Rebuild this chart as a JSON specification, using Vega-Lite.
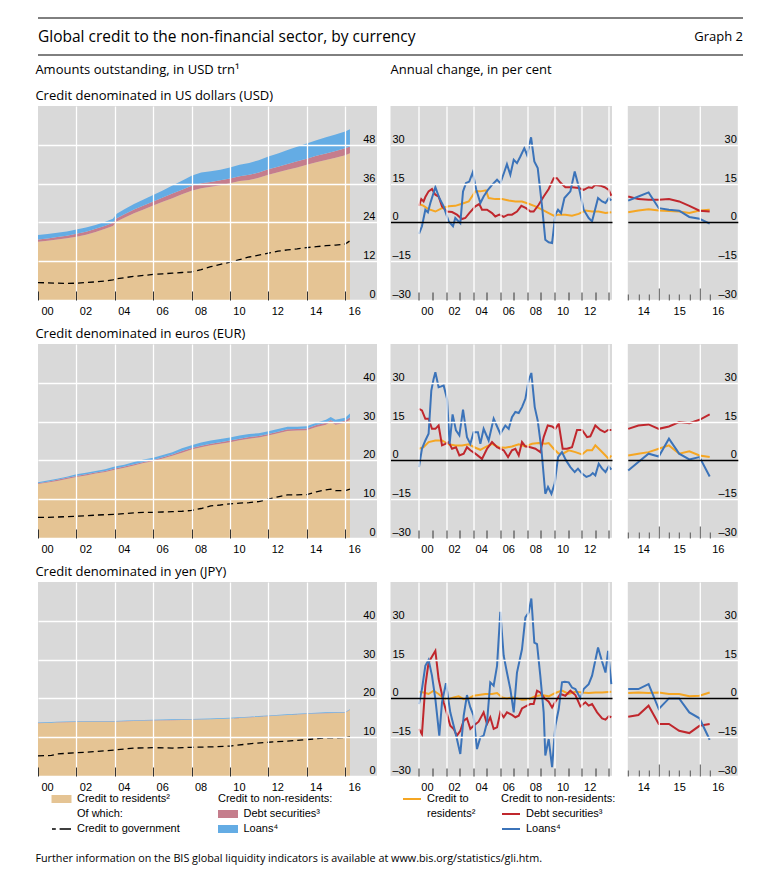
{
"padding": {"left": 35, "top": 17, "right": 5, "bottom": 5},
"background": "#ffffff",
"config": {
 "view": {"stroke": null},
 "font": "Liberation Sans",
 "axis": {"labelFont": "Liberation Sans", "labelFontSize": 11, "labelColor": "#000000"},
 "title": {"font": "Open Sans", "fontSize": 13, "fontWeight": "normal", "anchor": "start", "color": "#000000", "offset": 3},
 "text": {"font": "Liberation Sans", "fontSize": 11, "color": "#000000"}
},
"title": {"text": "Further information on the BIS global liquidity indicators is available at www.bis.org/statistics/gli.htm.", "orient": "bottom", "anchor": "start", "offset": 19, "fontSize": 10.8},
"datasets": {
 "head": [{"side": "left", "label": "Global credit to the non-financial sector, by currency"}, {"side": "right", "label": "Graph 2"}],
 "legL": [
  {"col": "c1", "row": "r1", "sym": "res", "label": "Credit to residents²"},
  {"col": "c1", "row": "r2", "sym": "none", "label": "Of which:"},
  {"col": "c1", "row": "r3", "sym": "gov", "label": "Credit to government"},
  {"col": "c2", "row": "r1", "sym": "head", "label": "Credit to non-residents:"},
  {"col": "c2", "row": "r2", "sym": "sec", "label": "Debt securities³"},
  {"col": "c2", "row": "r3", "sym": "loans", "label": "Loans⁴"}
 ],
 "legR": [
  {"col": "c3", "row": "r1", "sym": "res", "label": "Credit to"},
  {"col": "c3", "row": "r2", "sym": "none", "label": "residents²"},
  {"col": "c4", "row": "r1", "sym": "head", "label": "Credit to non-residents:"},
  {"col": "c4", "row": "r2", "sym": "sec", "label": "Debt securities³"},
  {"col": "c4", "row": "r3", "sym": "loans", "label": "Loans⁴"}
 ],
 "lUSD": [
  {"t":2000,"a_res":18.0,"b_sec":0.7,"c_loans":1.4,"gov":5.4},
  {"t":2000.5,"a_res":18.3,"b_sec":0.7,"c_loans":1.4,"gov":5.3},
  {"t":2001,"a_res":18.7,"b_sec":0.8,"c_loans":1.3,"gov":5.2},
  {"t":2001.5,"a_res":19.1,"b_sec":0.8,"c_loans":1.3,"gov":5.1},
  {"t":2002,"a_res":19.6,"b_sec":0.9,"c_loans":1.3,"gov":5.2},
  {"t":2002.5,"a_res":20.2,"b_sec":0.9,"c_loans":1.3,"gov":5.4},
  {"t":2003,"a_res":21.0,"b_sec":1.0,"c_loans":1.2,"gov":5.6},
  {"t":2003.5,"a_res":22.0,"b_sec":1.0,"c_loans":1.2,"gov":5.9},
  {"t":2003.9,"a_res":22.9,"b_sec":1.0,"c_loans":1.2,"gov":6.2},
  {"t":2004.1,"a_res":24.3,"b_sec":1.0,"c_loans":1.4,"gov":6.6},
  {"t":2004.5,"a_res":25.4,"b_sec":1.1,"c_loans":1.6,"gov":6.9},
  {"t":2005,"a_res":26.8,"b_sec":1.2,"c_loans":1.7,"gov":7.3},
  {"t":2005.5,"a_res":28.0,"b_sec":1.2,"c_loans":1.9,"gov":7.6},
  {"t":2006,"a_res":29.2,"b_sec":1.3,"c_loans":2.0,"gov":7.9},
  {"t":2006.5,"a_res":30.4,"b_sec":1.3,"c_loans":2.2,"gov":8.1},
  {"t":2007,"a_res":31.5,"b_sec":1.4,"c_loans":2.5,"gov":8.3},
  {"t":2007.5,"a_res":32.7,"b_sec":1.4,"c_loans":2.8,"gov":8.5},
  {"t":2008,"a_res":33.8,"b_sec":1.5,"c_loans":3.1,"gov":8.7},
  {"t":2008.5,"a_res":34.6,"b_sec":1.5,"c_loans":3.3,"gov":9.4},
  {"t":2009,"a_res":35.0,"b_sec":1.5,"c_loans":3.3,"gov":10.3},
  {"t":2009.5,"a_res":35.5,"b_sec":1.5,"c_loans":3.3,"gov":11.0},
  {"t":2010,"a_res":36.1,"b_sec":1.5,"c_loans":3.4,"gov":11.7},
  {"t":2010.5,"a_res":36.8,"b_sec":1.5,"c_loans":3.5,"gov":12.5},
  {"t":2011,"a_res":37.1,"b_sec":1.6,"c_loans":3.7,"gov":13.3},
  {"t":2011.5,"a_res":37.8,"b_sec":1.6,"c_loans":3.8,"gov":13.9},
  {"t":2012,"a_res":38.7,"b_sec":1.7,"c_loans":4.0,"gov":14.5},
  {"t":2012.5,"a_res":39.5,"b_sec":1.7,"c_loans":4.1,"gov":15.1},
  {"t":2013,"a_res":40.3,"b_sec":1.8,"c_loans":4.3,"gov":15.5},
  {"t":2013.5,"a_res":41.0,"b_sec":1.9,"c_loans":4.5,"gov":15.8},
  {"t":2014,"a_res":41.8,"b_sec":1.9,"c_loans":4.7,"gov":16.2},
  {"t":2014.5,"a_res":42.6,"b_sec":2.0,"c_loans":4.8,"gov":16.5},
  {"t":2015,"a_res":43.3,"b_sec":2.0,"c_loans":5.0,"gov":16.8},
  {"t":2015.5,"a_res":44.0,"b_sec":2.1,"c_loans":5.1,"gov":17.0},
  {"t":2016,"a_res":44.8,"b_sec":2.1,"c_loans":5.2,"gov":17.3},
  {"t":2016.25,"a_res":45.4,"b_sec":2.1,"c_loans":5.3,"gov":18.3}
 ],
 "lEUR": [
  {"t":2000,"a_res":13.9,"b_sec":0.2,"c_loans":0.3,"gov":5.3},
  {"t":2000.5,"a_res":14.3,"b_sec":0.2,"c_loans":0.3,"gov":5.3},
  {"t":2001,"a_res":14.7,"b_sec":0.3,"c_loans":0.3,"gov":5.4},
  {"t":2001.5,"a_res":15.2,"b_sec":0.3,"c_loans":0.3,"gov":5.5},
  {"t":2002,"a_res":15.7,"b_sec":0.3,"c_loans":0.4,"gov":5.6},
  {"t":2002.5,"a_res":16.1,"b_sec":0.3,"c_loans":0.4,"gov":5.7},
  {"t":2003,"a_res":16.6,"b_sec":0.3,"c_loans":0.4,"gov":5.9},
  {"t":2003.5,"a_res":17.0,"b_sec":0.3,"c_loans":0.4,"gov":6.0},
  {"t":2004,"a_res":17.6,"b_sec":0.3,"c_loans":0.5,"gov":6.1},
  {"t":2004.5,"a_res":18.1,"b_sec":0.3,"c_loans":0.5,"gov":6.3},
  {"t":2005,"a_res":18.7,"b_sec":0.3,"c_loans":0.6,"gov":6.5},
  {"t":2005.5,"a_res":19.3,"b_sec":0.3,"c_loans":0.6,"gov":6.6},
  {"t":2006,"a_res":19.8,"b_sec":0.3,"c_loans":0.6,"gov":6.6},
  {"t":2006.5,"a_res":20.5,"b_sec":0.3,"c_loans":0.6,"gov":6.7},
  {"t":2007,"a_res":21.2,"b_sec":0.3,"c_loans":0.6,"gov":6.8},
  {"t":2007.5,"a_res":22.0,"b_sec":0.4,"c_loans":0.7,"gov":6.9},
  {"t":2008,"a_res":22.8,"b_sec":0.4,"c_loans":0.7,"gov":7.1},
  {"t":2008.5,"a_res":23.4,"b_sec":0.4,"c_loans":0.8,"gov":7.6},
  {"t":2009,"a_res":23.9,"b_sec":0.4,"c_loans":0.8,"gov":8.3},
  {"t":2009.5,"a_res":24.3,"b_sec":0.4,"c_loans":0.8,"gov":8.5},
  {"t":2010,"a_res":24.7,"b_sec":0.4,"c_loans":0.8,"gov":8.8},
  {"t":2010.5,"a_res":25.2,"b_sec":0.4,"c_loans":0.8,"gov":9.0},
  {"t":2011,"a_res":25.6,"b_sec":0.4,"c_loans":0.8,"gov":9.1},
  {"t":2011.5,"a_res":25.9,"b_sec":0.4,"c_loans":0.7,"gov":9.4},
  {"t":2012,"a_res":26.4,"b_sec":0.4,"c_loans":0.7,"gov":10.0},
  {"t":2012.5,"a_res":27.0,"b_sec":0.4,"c_loans":0.7,"gov":10.6},
  {"t":2013,"a_res":27.6,"b_sec":0.4,"c_loans":0.7,"gov":11.1},
  {"t":2013.5,"a_res":27.7,"b_sec":0.4,"c_loans":0.6,"gov":11.1},
  {"t":2014,"a_res":27.8,"b_sec":0.4,"c_loans":0.6,"gov":11.2},
  {"t":2014.5,"a_res":28.6,"b_sec":0.5,"c_loans":0.6,"gov":11.9},
  {"t":2015,"a_res":29.2,"b_sec":0.5,"c_loans":0.8,"gov":12.4},
  {"t":2015.25,"a_res":29.9,"b_sec":0.5,"c_loans":0.8,"gov":12.6},
  {"t":2015.5,"a_res":29.2,"b_sec":0.5,"c_loans":0.8,"gov":12.2},
  {"t":2016,"a_res":29.7,"b_sec":0.5,"c_loans":0.8,"gov":12.2},
  {"t":2016.25,"a_res":30.5,"b_sec":0.6,"c_loans":1.0,"gov":12.6}
 ],
 "lJPY": [
  {"t":2000,"a_res":13.6,"b_sec":0.05,"c_loans":0.15,"gov":5.2},
  {"t":2000.7,"a_res":13.7,"b_sec":0.05,"c_loans":0.15,"gov":5.3},
  {"t":2001,"a_res":13.8,"b_sec":0.05,"c_loans":0.15,"gov":5.7},
  {"t":2002,"a_res":13.9,"b_sec":0.05,"c_loans":0.15,"gov":6.0},
  {"t":2003,"a_res":14.0,"b_sec":0.05,"c_loans":0.15,"gov":6.3},
  {"t":2004,"a_res":14.0,"b_sec":0.05,"c_loans":0.15,"gov":6.7},
  {"t":2005,"a_res":14.2,"b_sec":0.05,"c_loans":0.15,"gov":7.2},
  {"t":2006,"a_res":14.3,"b_sec":0.05,"c_loans":0.15,"gov":7.3},
  {"t":2007,"a_res":14.4,"b_sec":0.05,"c_loans":0.15,"gov":7.2},
  {"t":2008,"a_res":14.5,"b_sec":0.05,"c_loans":0.15,"gov":7.4},
  {"t":2009,"a_res":14.6,"b_sec":0.05,"c_loans":0.15,"gov":7.5},
  {"t":2010,"a_res":14.8,"b_sec":0.05,"c_loans":0.15,"gov":7.7},
  {"t":2011,"a_res":15.1,"b_sec":0.05,"c_loans":0.15,"gov":8.3},
  {"t":2012,"a_res":15.4,"b_sec":0.05,"c_loans":0.15,"gov":8.7},
  {"t":2013,"a_res":15.7,"b_sec":0.05,"c_loans":0.15,"gov":9.0},
  {"t":2014,"a_res":16.0,"b_sec":0.05,"c_loans":0.15,"gov":9.4},
  {"t":2015,"a_res":16.2,"b_sec":0.05,"c_loans":0.15,"gov":9.8},
  {"t":2016,"a_res":16.3,"b_sec":0.05,"c_loans":0.15,"gov":9.9},
  {"t":2016.25,"a_res":17.0,"b_sec":0.05,"c_loans":0.15,"gov":10.1}
 ],
 "uR": [{"t":2000,"v":7.2},{"t":2000.34,"v":6.4},{"t":2000.71,"v":5.1},{"t":2001.21,"v":4.2},{"t":2001.7,"v":5.5},{"t":2002.19,"v":6.2},{"t":2002.68,"v":6.4},{"t":2003.17,"v":7.2},{"t":2003.67,"v":8.1},{"t":2004.16,"v":12},{"t":2004.53,"v":12},{"t":2004.94,"v":12.4},{"t":2005.14,"v":9.4},{"t":2005.63,"v":9},{"t":2006.13,"v":9},{"t":2006.62,"v":8.5},{"t":2007.11,"v":8.1},{"t":2007.6,"v":8.1},{"t":2008.09,"v":7.2},{"t":2008.59,"v":6.2},{"t":2009.08,"v":4.9},{"t":2009.57,"v":3.6},{"t":2009.94,"v":2.6},{"t":2010.31,"v":3},{"t":2010.8,"v":3},{"t":2011.29,"v":2.6},{"t":2011.78,"v":3.3},{"t":2012.28,"v":4.6},{"t":2012.77,"v":4.2},{"t":2013.26,"v":4.2},{"t":2013.76,"v":3.6},{"t":2014.19,"v":3.9}],
 "uD": [{"t":2000,"v":6.4},{"t":2000.17,"v":9},{"t":2000.34,"v":8.1},{"t":2000.47,"v":9.8},{"t":2000.71,"v":12},{"t":2000.96,"v":12.9},{"t":2001.21,"v":10.7},{"t":2001.45,"v":10},{"t":2001.7,"v":6.2},{"t":2002.07,"v":4.2},{"t":2002.44,"v":4},{"t":2002.8,"v":3},{"t":2003.17,"v":1.3},{"t":2003.42,"v":1.7},{"t":2003.71,"v":3.6},{"t":2004.16,"v":6.2},{"t":2004.45,"v":7.1},{"t":2004.65,"v":4.9},{"t":2005.02,"v":4.9},{"t":2005.39,"v":3.6},{"t":2005.63,"v":2.3},{"t":2005.93,"v":3},{"t":2006.25,"v":2.1},{"t":2006.57,"v":3},{"t":2006.86,"v":3},{"t":2007.23,"v":4.2},{"t":2007.55,"v":6.4},{"t":2007.9,"v":5.5},{"t":2008.22,"v":4.2},{"t":2008.46,"v":4.2},{"t":2008.83,"v":6.8},{"t":2009.2,"v":10},{"t":2009.57,"v":12.9},{"t":2009.94,"v":17.1},{"t":2010.18,"v":17.1},{"t":2010.43,"v":15.4},{"t":2010.8,"v":13.6},{"t":2011.29,"v":13.6},{"t":2011.78,"v":13.3},{"t":2012.15,"v":12.6},{"t":2012.52,"v":13.6},{"t":2012.77,"v":13.3},{"t":2013.01,"v":14.5},{"t":2013.38,"v":14.2},{"t":2013.7,"v":13.6},{"t":2014,"v":12.6},{"t":2014.19,"v":10.3}],
 "uL": [{"t":2000,"v":-4.4},{"t":2000.22,"v":-1.5},{"t":2000.47,"v":4.9},{"t":2000.66,"v":3.9},{"t":2000.84,"v":7.5},{"t":2001.21,"v":13.6},{"t":2001.5,"v":9.4},{"t":2001.82,"v":6.2},{"t":2002.19,"v":0.4},{"t":2002.51,"v":-1.5},{"t":2002.68,"v":1.7},{"t":2003.05,"v":-0.3},{"t":2003.25,"v":12},{"t":2003.47,"v":15.2},{"t":2003.71,"v":15.8},{"t":2003.96,"v":19.3},{"t":2004.23,"v":12.6},{"t":2004.53,"v":7.5},{"t":2004.77,"v":10},{"t":2005.09,"v":12.6},{"t":2005.39,"v":14.5},{"t":2005.76,"v":16.5},{"t":2006,"v":15.2},{"t":2006.25,"v":18.8},{"t":2006.49,"v":22.5},{"t":2006.74,"v":18.4},{"t":2006.99,"v":24.2},{"t":2007.23,"v":22.9},{"t":2007.48,"v":25.5},{"t":2007.77,"v":28.7},{"t":2007.97,"v":26.1},{"t":2008.27,"v":32.9},{"t":2008.51,"v":23.6},{"t":2008.76,"v":21},{"t":2009.08,"v":6.2},{"t":2009.32,"v":-6.7},{"t":2009.57,"v":-7.7},{"t":2009.82,"v":-8},{"t":2010.06,"v":3},{"t":2010.26,"v":4.9},{"t":2010.48,"v":3.6},{"t":2010.73,"v":9.4},{"t":2011.17,"v":12},{"t":2011.49,"v":19.7},{"t":2011.78,"v":13.9},{"t":2012.15,"v":4.9},{"t":2012.52,"v":1.7},{"t":2012.77,"v":0.4},{"t":2013.21,"v":9.4},{"t":2013.51,"v":8.1},{"t":2013.76,"v":7.5},{"t":2014,"v":9.4},{"t":2014.19,"v":8.5}],
 "eR": [{"t":2000,"v":4.5},{"t":2000.34,"v":5.1},{"t":2000.71,"v":7.1},{"t":2001.21,"v":7.7},{"t":2001.7,"v":7.7},{"t":2002.19,"v":6.2},{"t":2002.68,"v":5.8},{"t":2003.17,"v":5.8},{"t":2003.67,"v":6.2},{"t":2004.16,"v":4.9},{"t":2004.53,"v":4.1},{"t":2004.9,"v":5.1},{"t":2005.39,"v":6.4},{"t":2005.88,"v":5.1},{"t":2006.37,"v":4.9},{"t":2006.86,"v":5.4},{"t":2007.36,"v":6.2},{"t":2007.85,"v":5.4},{"t":2008.34,"v":6.4},{"t":2008.83,"v":6.7},{"t":2009.32,"v":6.4},{"t":2009.57,"v":6.7},{"t":2009.94,"v":4.5},{"t":2010.31,"v":2.6},{"t":2010.68,"v":2.8},{"t":2011.05,"v":3.9},{"t":2011.54,"v":3.2},{"t":2012.03,"v":2.3},{"t":2012.4,"v":3.9},{"t":2012.77,"v":3.9},{"t":2013.01,"v":5.8},{"t":2013.38,"v":3.9},{"t":2013.76,"v":1.9},{"t":2014,"v":0.6},{"t":2014.19,"v":1.9}],
 "eD": [{"t":2000,"v":19.9},{"t":2000.22,"v":19.3},{"t":2000.47,"v":16.1},{"t":2000.71,"v":16.1},{"t":2000.96,"v":12.2},{"t":2001.21,"v":12.2},{"t":2001.45,"v":13.5},{"t":2001.7,"v":5.8},{"t":2001.94,"v":6.4},{"t":2002.19,"v":7.1},{"t":2002.44,"v":4.5},{"t":2002.73,"v":5.1},{"t":2002.98,"v":1.9},{"t":2003.3,"v":2.6},{"t":2003.54,"v":5.1},{"t":2003.79,"v":3.9},{"t":2004.16,"v":2.6},{"t":2004.65,"v":0.6},{"t":2005.02,"v":4.5},{"t":2005.39,"v":7.1},{"t":2005.76,"v":5.1},{"t":2006.25,"v":3.9},{"t":2006.57,"v":1.3},{"t":2006.86,"v":3.9},{"t":2007.11,"v":4.5},{"t":2007.36,"v":1.9},{"t":2007.6,"v":7.1},{"t":2007.85,"v":5.4},{"t":2008.22,"v":5.1},{"t":2008.59,"v":4.5},{"t":2008.95,"v":3.2},{"t":2009.2,"v":9},{"t":2009.5,"v":13.5},{"t":2009.82,"v":13.1},{"t":2010.06,"v":12.2},{"t":2010.31,"v":14.2},{"t":2010.6,"v":4.5},{"t":2010.92,"v":4.5},{"t":2011.29,"v":5.1},{"t":2011.66,"v":11.8},{"t":2012.03,"v":11.8},{"t":2012.4,"v":9},{"t":2012.64,"v":9.3},{"t":2013.01,"v":13.5},{"t":2013.38,"v":11.8},{"t":2013.7,"v":10.9},{"t":2013.95,"v":11.8},{"t":2014.19,"v":11.8}],
 "eL": [{"t":2000,"v":-2.6},{"t":2000.22,"v":4.5},{"t":2000.47,"v":7.7},{"t":2000.71,"v":10.3},{"t":2000.91,"v":27},{"t":2001.08,"v":31.5},{"t":2001.21,"v":34.1},{"t":2001.45,"v":28.3},{"t":2001.65,"v":28.6},{"t":2001.82,"v":29},{"t":2002.07,"v":23.8},{"t":2002.26,"v":6.4},{"t":2002.48,"v":17.8},{"t":2002.73,"v":11.6},{"t":2002.98,"v":9.7},{"t":2003.25,"v":19.6},{"t":2003.54,"v":9},{"t":2003.79,"v":6.4},{"t":2004.03,"v":10.9},{"t":2004.35,"v":10.9},{"t":2004.53,"v":6.4},{"t":2004.77,"v":12.2},{"t":2005.14,"v":7.7},{"t":2005.51,"v":16.1},{"t":2006,"v":10.3},{"t":2006.37,"v":13.5},{"t":2006.62,"v":12.2},{"t":2006.86,"v":16.7},{"t":2007.11,"v":18.7},{"t":2007.36,"v":18.3},{"t":2007.6,"v":20.6},{"t":2007.85,"v":23.8},{"t":2008.09,"v":30.9},{"t":2008.29,"v":33.8},{"t":2008.54,"v":20.6},{"t":2008.76,"v":15.4},{"t":2009.03,"v":4.5},{"t":2009.32,"v":-12.9},{"t":2009.52,"v":-10.3},{"t":2009.77,"v":-12.9},{"t":2010.01,"v":-9},{"t":2010.26,"v":1.3},{"t":2010.55,"v":3.2},{"t":2010.85,"v":0},{"t":2011.17,"v":-2.6},{"t":2011.49,"v":-4.5},{"t":2011.73,"v":-3.2},{"t":2012.03,"v":-5.1},{"t":2012.35,"v":-6.4},{"t":2012.64,"v":-5.8},{"t":2012.82,"v":-4.9},{"t":2013.01,"v":-5.8},{"t":2013.26,"v":-1.3},{"t":2013.51,"v":-3.2},{"t":2013.76,"v":-4.5},{"t":2014,"v":-2.3},{"t":2014.19,"v":-3.6}],
 "jR": [{"t":2000,"v":2.6},{"t":2000.34,"v":2.3},{"t":2000.71,"v":1.7},{"t":2001.08,"v":3},{"t":2001.45,"v":1.7},{"t":2001.82,"v":0},{"t":2002.19,"v":-0.3},{"t":2002.56,"v":0.4},{"t":2002.93,"v":0.8},{"t":2003.3,"v":-0.3},{"t":2003.67,"v":0},{"t":2004.03,"v":1},{"t":2004.4,"v":1.3},{"t":2004.9,"v":1.7},{"t":2005.39,"v":1.7},{"t":2005.76,"v":2.1},{"t":2006.13,"v":0.4},{"t":2006.49,"v":0},{"t":2006.86,"v":0.4},{"t":2007.23,"v":0},{"t":2007.6,"v":-0.5},{"t":2008.09,"v":-0.3},{"t":2008.59,"v":0.8},{"t":2009.08,"v":1.3},{"t":2009.57,"v":0.8},{"t":2010.06,"v":2.1},{"t":2010.55,"v":3},{"t":2011.05,"v":1.7},{"t":2011.54,"v":2.6},{"t":2012.03,"v":2.3},{"t":2012.52,"v":2.1},{"t":2013.01,"v":2.3},{"t":2013.51,"v":2.3},{"t":2014.19,"v":2.6}],
 "jD": [{"t":2000,"v":-11.8},{"t":2000.22,"v":-13.8},{"t":2000.47,"v":4.9},{"t":2000.71,"v":13.9},{"t":2001.21,"v":18.4},{"t":2001.45,"v":7.5},{"t":2001.82,"v":-1.5},{"t":2002.07,"v":-6},{"t":2002.31,"v":-10.6},{"t":2002.56,"v":-11.8},{"t":2002.8,"v":-14.4},{"t":2003.05,"v":-12.5},{"t":2003.3,"v":-8.6},{"t":2003.54,"v":-7.7},{"t":2003.79,"v":-11.8},{"t":2004.03,"v":-10.6},{"t":2004.4,"v":-9},{"t":2004.77,"v":-5.4},{"t":2005.02,"v":-9.9},{"t":2005.26,"v":-7.3},{"t":2005.51,"v":-11.8},{"t":2005.76,"v":-11.2},{"t":2006,"v":-5.4},{"t":2006.25,"v":-7.3},{"t":2006.49,"v":-5.4},{"t":2006.86,"v":-6.4},{"t":2007.11,"v":-7.3},{"t":2007.36,"v":-6.7},{"t":2007.6,"v":-3.9},{"t":2007.97,"v":-2.8},{"t":2008.22,"v":-2.2},{"t":2008.46,"v":-2.2},{"t":2008.71,"v":3},{"t":2008.95,"v":2.3},{"t":2009.27,"v":0},{"t":2009.57,"v":-1.3},{"t":2009.82,"v":-3.5},{"t":2010.06,"v":-1.3},{"t":2010.43,"v":1.7},{"t":2010.8,"v":1},{"t":2011.17,"v":3},{"t":2011.54,"v":1.3},{"t":2011.91,"v":-3.1},{"t":2012.28,"v":-1.5},{"t":2012.52,"v":-2.8},{"t":2012.77,"v":-2.2},{"t":2013.14,"v":-5.4},{"t":2013.51,"v":-7.7},{"t":2013.76,"v":-8.2},{"t":2014,"v":-6.9},{"t":2014.19,"v":-7.3}],
 "jL": [{"t":2000,"v":-2.2},{"t":2000.22,"v":3.6},{"t":2000.47,"v":12.6},{"t":2000.71,"v":14.9},{"t":2000.96,"v":8.8},{"t":2001.21,"v":-0.3},{"t":2001.5,"v":-14.4},{"t":2001.7,"v":-1.5},{"t":2001.99,"v":5.9},{"t":2002.31,"v":-5.4},{"t":2002.56,"v":-10.6},{"t":2002.8,"v":-15.7},{"t":2003.05,"v":-21.5},{"t":2003.3,"v":-6.7},{"t":2003.54,"v":1.3},{"t":2003.79,"v":-3.5},{"t":2004.03,"v":-6.7},{"t":2004.28,"v":-19.6},{"t":2004.53,"v":-15},{"t":2004.77,"v":-14.4},{"t":2005.02,"v":-9.3},{"t":2005.26,"v":6.2},{"t":2005.51,"v":4.9},{"t":2005.76,"v":12.6},{"t":2006,"v":33.5},{"t":2006.25,"v":16.5},{"t":2006.49,"v":10},{"t":2006.74,"v":3.6},{"t":2006.99,"v":-5.4},{"t":2007.23,"v":10},{"t":2007.6,"v":19},{"t":2007.85,"v":31.3},{"t":2008.09,"v":33.2},{"t":2008.29,"v":38.6},{"t":2008.51,"v":21.6},{"t":2008.71,"v":21},{"t":2008.95,"v":8.8},{"t":2009.2,"v":-5.4},{"t":2009.32,"v":-22.1},{"t":2009.57,"v":-15.7},{"t":2009.82,"v":-26.6},{"t":2010.06,"v":-10.6},{"t":2010.31,"v":-4.1},{"t":2010.55,"v":6.2},{"t":2010.75,"v":6.4},{"t":2011.05,"v":6.2},{"t":2011.29,"v":4.2},{"t":2011.54,"v":3.6},{"t":2011.91,"v":0},{"t":2012.15,"v":3.6},{"t":2012.52,"v":5.5},{"t":2012.77,"v":8.8},{"t":2013.21,"v":19.7},{"t":2013.51,"v":14.2},{"t":2013.76,"v":10},{"t":2013.95,"v":18.4},{"t":2014.19,"v":5.5}],
 "qUSD": [{"t":2014.25,"res":3.9,"sec":10,"loans":8.4},{"t":2014.5,"res":4.6,"sec":9,"loans":10},{"t":2014.75,"res":5.1,"sec":8.8,"loans":11.6},{"t":2015,"res":4.6,"sec":8.8,"loans":5.5},{"t":2015.25,"res":4.4,"sec":9,"loans":4.9},{"t":2015.5,"res":4.2,"sec":8.1,"loans":4.5},{"t":2015.75,"res":3.6,"sec":6.4,"loans":2.1},{"t":2016,"res":4.6,"sec":4.5,"loans":1.4},{"t":2016.25,"res":4.9,"sec":4.2,"loans":-0.5}],
 "qEUR": [{"t":2014.25,"res":1.9,"sec":12.2,"loans":-3.9},{"t":2014.5,"res":2.6,"sec":13.5,"loans":-0.6},{"t":2014.75,"res":3.2,"sec":13.9,"loans":2.6},{"t":2015,"res":4.5,"sec":12.2,"loans":1.5},{"t":2015.25,"res":5.8,"sec":13.1,"loans":8.4},{"t":2015.5,"res":2.6,"sec":14.8,"loans":2.6},{"t":2015.75,"res":3.5,"sec":14.4,"loans":0.4},{"t":2016,"res":1.9,"sec":15.7,"loans":1.3},{"t":2016.25,"res":1.3,"sec":17.8,"loans":-6.2}],
 "qJPY": [{"t":2014.25,"res":2.1,"sec":-7.1,"loans":3.6},{"t":2014.5,"res":2.3,"sec":-6.4,"loans":3.6},{"t":2014.75,"res":2.1,"sec":-2.8,"loans":5.5},{"t":2015,"res":2.3,"sec":-9.9,"loans":-4.1},{"t":2015.25,"res":1.7,"sec":-9.9,"loans":0},{"t":2015.5,"res":1.7,"sec":-12.5,"loans":0},{"t":2015.75,"res":0.8,"sec":-13.4,"loans":-5.4},{"t":2016,"res":1,"sec":-10.6,"loans":-7.7},{"t":2016.25,"res":2.3,"sec":-9.9,"loans":-16}]
},
"vconcat": [
 {"spacing": 8, "vconcat": [
  {"width": 705, "height": 37,
   "layer": [
    {"data": {"values": [{"pos": "top"}, {"pos": "bottom"}]},
     "mark": {"type": "rule", "color": "#000000", "strokeWidth": 1},
     "encoding": {"y": {"field": "pos", "type": "nominal", "scale": {"type": "point", "domain": ["top", "bottom"], "padding": 0}, "axis": null}}},
    {"data": {"name": "head"}, "transform": [{"filter": "datum.side === 'left'"}],
     "mark": {"type": "text", "align": "left", "baseline": "middle", "font": "Open Sans", "fontSize": 15.5},
     "encoding": {"x": {"field": "side", "type": "nominal", "scale": {"type": "point", "domain": ["left", "right"], "padding": 0}, "axis": null}, "text": {"field": "label"}}},
    {"data": {"name": "head"}, "transform": [{"filter": "datum.side === 'right'"}],
     "mark": {"type": "text", "align": "right", "baseline": "middle", "font": "Open Sans", "fontSize": 13},
     "encoding": {"x": {"field": "side", "type": "nominal", "scale": {"type": "point", "domain": ["left", "right"], "padding": 0}, "axis": null}, "text": {"field": "label"}}}
   ]},
  {"spacing": 12, "vconcat": [
   {"spacing": 13.5, "hconcat": [
    {"width": 339, "height": 194, "view": {"fill": "#d9d9d9"},
     "title": {"text": ["Amounts outstanding, in USD trn¹", "Credit denominated in US dollars (USD)"], "lineHeight": 26},
     "data": {"name": "lUSD"},
     "layer": [
      {"transform": [{"fold": ["a_res", "b_sec", "c_loans"], "as": ["s", "v"]}],
       "mark": {"type": "area"},
       "encoding": {
        "x": {"field": "t", "type": "quantitative", "title": null, "scale": {"domain": [2000, 2017.66], "nice": false, "zero": false},
              "axis": {"title": null, "values": [2000,2001,2002,2003,2004,2005,2006,2007,2008,2009,2010,2011,2012,2013,2014,2015,2016], "format": "d", "labelExpr": "datum.value % 2 === 0 ? substring(datum.label, 2) : ''", "labelOffset": 9, "labelFlush": false, "labelOverlap": false, "labelBound": false, "labelPadding": 5, "offset": -9, "tickSize": 9, "tickColor": "#333333", "tickWidth": 1, "domain": false, "grid": true, "gridColor": "#ffffff", "gridWidth": 1.3, "gridOpacity": {"condition": {"test": "datum.value % 2 === 0 && datum.value > 2000", "value": 1}, "value": 0}, "zindex": 1}},
        "y": {"field": "v", "type": "quantitative", "title": null, "stack": "zero", "scale": {"domain": [0, 60], "nice": false},
              "axis": {"title": null, "orient": "right", "values": [0, 12, 24, 36, 48], "offset": -2, "ticks": false, "domain": false, "grid": true, "gridColor": "#ffffff", "gridWidth": 1.3, "labelAlign": "right", "labelBaseline": "alphabetic", "labelPadding": 0, "labelOffset": -2.5, "labelFlush": false, "labelOverlap": false, "labelBound": false, "zindex": 1}},
        "color": {"field": "s", "type": "nominal", "scale": {"domain": ["a_res", "b_sec", "c_loans"], "range": ["#e5c494", "#c57d8c", "#64ace4"]}, "legend": null},
        "order": {"field": "s", "sort": "ascending"}}},
      {"mark": {"type": "line", "color": "#000000", "strokeWidth": 1.3, "strokeDash": [6, 4]},
       "encoding": {"x": {"field": "t", "type": "quantitative", "title": null}, "y": {"field": "gov", "type": "quantitative", "title": null}}}
     ]},
    {"spacing": 8.3, "title": {"text": "Annual change, in per cent", "offset": 29},
     "hconcat": [
      {"width": 221.5, "height": 194, "view": {"fill": "#d9d9d9"},
       "resolve": {"axis": {"x": "independent"}},
       "layer": [
        {"data": {"name": "uR"}, "mark": {"type": "line", "color": "#f5a623", "strokeWidth": 2},
         "encoding": {
          "x": {"field": "t", "type": "quantitative", "title": null, "scale": {"domain": [1997.9, 2014.24], "nice": false, "zero": false},
                "axis": {"title": null, "orient": "bottom", "values": [2000,2001,2002,2003,2004,2005,2006,2007,2008,2009,2010,2011,2012,2013,2014], "labels": false, "offset": -8, "tickSize": 8, "tickColor": "#333333", "tickWidth": 1, "domain": false, "grid": true, "gridColor": "#ffffff", "gridWidth": 1.3, "gridOpacity": {"condition": {"test": "datum.value % 2 === 0", "value": 1}, "value": 0}, "zindex": 1}},
          "y": {"field": "v", "type": "quantitative", "title": null, "scale": {"domain": [-30, 45], "nice": false, "zero": false},
                "axis": {"title": null, "orient": "left", "values": [-30, -15, 0, 15, 30], "offset": -1.5, "ticks": false, "domain": false, "grid": true, "gridColor": {"condition": {"test": "datum.value === 0", "value": "#000000"}, "value": "#ffffff"}, "gridWidth": 1.3, "labelAlign": "left", "labelBaseline": "alphabetic", "labelPadding": 0, "labelOffset": -2.5, "labelExpr": "datum.value < 0 ? '–' + abs(datum.value) : datum.label", "labelFlush": false, "labelOverlap": false, "labelBound": false, "zindex": 1}}}},
        {"data": {"name": "uD"}, "mark": {"type": "line", "color": "#c0272d", "strokeWidth": 2},
         "encoding": {"x": {"field": "t", "type": "quantitative", "title": null,
                "axis": {"title": null, "orient": "bottom", "values": [2000, 2002, 2004, 2006, 2008, 2010, 2012], "format": "d", "labelExpr": "substring(datum.label, 2)", "labelOffset": 8, "ticks": false, "tickSize": 0, "labelPadding": 5, "labelFlush": false, "labelOverlap": false, "labelBound": false, "domain": false, "grid": false, "zindex": 1}},
          "y": {"field": "v", "type": "quantitative", "title": null}}},
        {"data": {"name": "uL"}, "mark": {"type": "line", "color": "#3b73b9", "strokeWidth": 2},
         "encoding": {"x": {"field": "t", "type": "quantitative", "title": null, "axis": null}, "y": {"field": "v", "type": "quantitative", "title": null}}}
       ]},
      {"width": 110, "height": 194, "view": {"fill": "#d9d9d9"},
       "data": {"name": "qUSD"},
       "resolve": {"axis": {"x": "independent"}},
       "layer": [
        {"mark": {"type": "line", "color": "#f5a623", "strokeWidth": 2},
         "encoding": {
          "x": {"field": "t", "type": "quantitative", "title": null, "scale": {"domain": [2014.24, 2016.94], "nice": false, "zero": false},
                "axis": {"title": null, "orient": "bottom", "values": [2014.25, 2014.5, 2014.75, 2015.25, 2015.5, 2015.75, 2016.25], "offset": -6, "tickSize": 6, "tickColor": "#555555", "tickWidth": 1, "labels": false, "domain": false, "grid": false, "zindex": 1}},
          "y": {"field": "res", "type": "quantitative", "title": null, "scale": {"domain": [-30, 45], "nice": false, "zero": false},
                "axis": {"title": null, "orient": "right", "values": [-30, -15, 0, 15, 30], "offset": -1.5, "ticks": false, "domain": false, "grid": true, "gridColor": {"condition": {"test": "datum.value === 0", "value": "#000000"}, "value": "#ffffff"}, "gridWidth": 1.3, "labelAlign": "right", "labelBaseline": "alphabetic", "labelPadding": 0, "labelOffset": -2.5, "labelExpr": "datum.value < 0 ? '–' + abs(datum.value) : datum.label", "labelFlush": false, "labelOverlap": false, "labelBound": false, "zindex": 1}}}},
        {"mark": {"type": "line", "color": "#c0272d", "strokeWidth": 2},
         "encoding": {
          "x": {"field": "t", "type": "quantitative", "title": null,
                "axis": {"title": null, "orient": "bottom", "values": [2015, 2016], "offset": -12, "tickSize": 12, "tickColor": "#555555", "tickWidth": 1, "labels": false, "domain": false, "grid": true, "gridColor": "#ffffff", "gridWidth": 1.3, "zindex": 1}},
          "y": {"field": "sec", "type": "quantitative", "title": null}}},
        {"mark": {"type": "line", "color": "#3b73b9", "strokeWidth": 2},
         "encoding": {
          "x": {"field": "t", "type": "quantitative", "title": null,
                "axis": {"title": null, "orient": "bottom", "values": [2014.62, 2015.5, 2016.45], "ticks": false, "tickSize": 0, "labelExpr": "'' + (floor(datum.value) - 2000)", "labelPadding": 5, "labelFlush": false, "labelOverlap": false, "labelBound": false, "domain": false, "grid": false, "zindex": 1}},
          "y": {"field": "loans", "type": "quantitative", "title": null}}}
       ]}
     ]}
   ]},
   {"spacing": 13.5, "hconcat": [
    {"width": 339, "height": 194, "view": {"fill": "#d9d9d9"},
     "title": {"text": "Credit denominated in euros (EUR)"},
     "data": {"name": "lEUR"},
     "layer": [
      {"transform": [{"fold": ["a_res", "b_sec", "c_loans"], "as": ["s", "v"]}],
       "mark": {"type": "area"},
       "encoding": {
        "x": {"field": "t", "type": "quantitative", "title": null, "scale": {"domain": [2000, 2017.66], "nice": false, "zero": false},
              "axis": {"title": null, "values": [2000,2001,2002,2003,2004,2005,2006,2007,2008,2009,2010,2011,2012,2013,2014,2015,2016], "format": "d", "labelExpr": "datum.value % 2 === 0 ? substring(datum.label, 2) : ''", "labelOffset": 9, "labelFlush": false, "labelOverlap": false, "labelBound": false, "labelPadding": 5, "offset": -9, "tickSize": 9, "tickColor": "#333333", "tickWidth": 1, "domain": false, "grid": true, "gridColor": "#ffffff", "gridWidth": 1.3, "gridOpacity": {"condition": {"test": "datum.value % 2 === 0 && datum.value > 2000", "value": 1}, "value": 0}, "zindex": 1}},
        "y": {"field": "v", "type": "quantitative", "title": null, "stack": "zero", "scale": {"domain": [0, 50], "nice": false},
              "axis": {"title": null, "orient": "right", "values": [0, 10, 20, 30, 40], "offset": -2, "ticks": false, "domain": false, "grid": true, "gridColor": "#ffffff", "gridWidth": 1.3, "labelAlign": "right", "labelBaseline": "alphabetic", "labelPadding": 0, "labelOffset": -2.5, "labelFlush": false, "labelOverlap": false, "labelBound": false, "zindex": 1}},
        "color": {"field": "s", "type": "nominal", "scale": {"domain": ["a_res", "b_sec", "c_loans"], "range": ["#e5c494", "#c57d8c", "#64ace4"]}, "legend": null},
        "order": {"field": "s", "sort": "ascending"}}},
      {"mark": {"type": "line", "color": "#000000", "strokeWidth": 1.3, "strokeDash": [6, 4]},
       "encoding": {"x": {"field": "t", "type": "quantitative", "title": null}, "y": {"field": "gov", "type": "quantitative", "title": null}}}
     ]},
    {"spacing": 8.3,
     "hconcat": [
      {"width": 221.5, "height": 194, "view": {"fill": "#d9d9d9"},
       "resolve": {"axis": {"x": "independent"}},
       "layer": [
        {"data": {"name": "eR"}, "mark": {"type": "line", "color": "#f5a623", "strokeWidth": 2},
         "encoding": {
          "x": {"field": "t", "type": "quantitative", "title": null, "scale": {"domain": [1997.9, 2014.24], "nice": false, "zero": false},
                "axis": {"title": null, "orient": "bottom", "values": [2000,2001,2002,2003,2004,2005,2006,2007,2008,2009,2010,2011,2012,2013,2014], "labels": false, "offset": -8, "tickSize": 8, "tickColor": "#333333", "tickWidth": 1, "domain": false, "grid": true, "gridColor": "#ffffff", "gridWidth": 1.3, "gridOpacity": {"condition": {"test": "datum.value % 2 === 0", "value": 1}, "value": 0}, "zindex": 1}},
          "y": {"field": "v", "type": "quantitative", "title": null, "scale": {"domain": [-30, 45], "nice": false, "zero": false},
                "axis": {"title": null, "orient": "left", "values": [-30, -15, 0, 15, 30], "offset": -1.5, "ticks": false, "domain": false, "grid": true, "gridColor": {"condition": {"test": "datum.value === 0", "value": "#000000"}, "value": "#ffffff"}, "gridWidth": 1.3, "labelAlign": "left", "labelBaseline": "alphabetic", "labelPadding": 0, "labelOffset": -2.5, "labelExpr": "datum.value < 0 ? '–' + abs(datum.value) : datum.label", "labelFlush": false, "labelOverlap": false, "labelBound": false, "zindex": 1}}}},
        {"data": {"name": "eD"}, "mark": {"type": "line", "color": "#c0272d", "strokeWidth": 2},
         "encoding": {"x": {"field": "t", "type": "quantitative", "title": null,
                "axis": {"title": null, "orient": "bottom", "values": [2000, 2002, 2004, 2006, 2008, 2010, 2012], "format": "d", "labelExpr": "substring(datum.label, 2)", "labelOffset": 8, "ticks": false, "tickSize": 0, "labelPadding": 5, "labelFlush": false, "labelOverlap": false, "labelBound": false, "domain": false, "grid": false, "zindex": 1}},
          "y": {"field": "v", "type": "quantitative", "title": null}}},
        {"data": {"name": "eL"}, "mark": {"type": "line", "color": "#3b73b9", "strokeWidth": 2},
         "encoding": {"x": {"field": "t", "type": "quantitative", "title": null, "axis": null}, "y": {"field": "v", "type": "quantitative", "title": null}}}
       ]},
      {"width": 110, "height": 194, "view": {"fill": "#d9d9d9"},
       "data": {"name": "qEUR"},
       "resolve": {"axis": {"x": "independent"}},
       "layer": [
        {"mark": {"type": "line", "color": "#f5a623", "strokeWidth": 2},
         "encoding": {
          "x": {"field": "t", "type": "quantitative", "title": null, "scale": {"domain": [2014.24, 2016.94], "nice": false, "zero": false},
                "axis": {"title": null, "orient": "bottom", "values": [2014.25, 2014.5, 2014.75, 2015.25, 2015.5, 2015.75, 2016.25], "offset": -6, "tickSize": 6, "tickColor": "#555555", "tickWidth": 1, "labels": false, "domain": false, "grid": false, "zindex": 1}},
          "y": {"field": "res", "type": "quantitative", "title": null, "scale": {"domain": [-30, 45], "nice": false, "zero": false},
                "axis": {"title": null, "orient": "right", "values": [-30, -15, 0, 15, 30], "offset": -1.5, "ticks": false, "domain": false, "grid": true, "gridColor": {"condition": {"test": "datum.value === 0", "value": "#000000"}, "value": "#ffffff"}, "gridWidth": 1.3, "labelAlign": "right", "labelBaseline": "alphabetic", "labelPadding": 0, "labelOffset": -2.5, "labelExpr": "datum.value < 0 ? '–' + abs(datum.value) : datum.label", "labelFlush": false, "labelOverlap": false, "labelBound": false, "zindex": 1}}}},
        {"mark": {"type": "line", "color": "#c0272d", "strokeWidth": 2},
         "encoding": {
          "x": {"field": "t", "type": "quantitative", "title": null,
                "axis": {"title": null, "orient": "bottom", "values": [2015, 2016], "offset": -12, "tickSize": 12, "tickColor": "#555555", "tickWidth": 1, "labels": false, "domain": false, "grid": true, "gridColor": "#ffffff", "gridWidth": 1.3, "zindex": 1}},
          "y": {"field": "sec", "type": "quantitative", "title": null}}},
        {"mark": {"type": "line", "color": "#3b73b9", "strokeWidth": 2},
         "encoding": {
          "x": {"field": "t", "type": "quantitative", "title": null,
                "axis": {"title": null, "orient": "bottom", "values": [2014.62, 2015.5, 2016.45], "ticks": false, "tickSize": 0, "labelExpr": "'' + (floor(datum.value) - 2000)", "labelPadding": 5, "labelFlush": false, "labelOverlap": false, "labelBound": false, "domain": false, "grid": false, "zindex": 1}},
          "y": {"field": "loans", "type": "quantitative", "title": null}}}
       ]}
     ]}
   ]},
   {"spacing": 13.5, "hconcat": [
    {"width": 339, "height": 194, "view": {"fill": "#d9d9d9"},
     "title": {"text": "Credit denominated in yen (JPY)"},
     "data": {"name": "lJPY"},
     "layer": [
      {"transform": [{"fold": ["a_res", "b_sec", "c_loans"], "as": ["s", "v"]}],
       "mark": {"type": "area"},
       "encoding": {
        "x": {"field": "t", "type": "quantitative", "title": null, "scale": {"domain": [2000, 2017.66], "nice": false, "zero": false},
              "axis": {"title": null, "values": [2000,2001,2002,2003,2004,2005,2006,2007,2008,2009,2010,2011,2012,2013,2014,2015,2016], "format": "d", "labelExpr": "datum.value % 2 === 0 ? substring(datum.label, 2) : ''", "labelOffset": 9, "labelFlush": false, "labelOverlap": false, "labelBound": false, "labelPadding": 5, "offset": -9, "tickSize": 9, "tickColor": "#333333", "tickWidth": 1, "domain": false, "grid": true, "gridColor": "#ffffff", "gridWidth": 1.3, "gridOpacity": {"condition": {"test": "datum.value % 2 === 0 && datum.value > 2000", "value": 1}, "value": 0}, "zindex": 1}},
        "y": {"field": "v", "type": "quantitative", "title": null, "stack": "zero", "scale": {"domain": [0, 50], "nice": false},
              "axis": {"title": null, "orient": "right", "values": [0, 10, 20, 30, 40], "offset": -2, "ticks": false, "domain": false, "grid": true, "gridColor": "#ffffff", "gridWidth": 1.3, "labelAlign": "right", "labelBaseline": "alphabetic", "labelPadding": 0, "labelOffset": -2.5, "labelFlush": false, "labelOverlap": false, "labelBound": false, "zindex": 1}},
        "color": {"field": "s", "type": "nominal", "scale": {"domain": ["a_res", "b_sec", "c_loans"], "range": ["#e5c494", "#c57d8c", "#64ace4"]}, "legend": null},
        "order": {"field": "s", "sort": "ascending"}}},
      {"mark": {"type": "line", "color": "#000000", "strokeWidth": 1.3, "strokeDash": [6, 4]},
       "encoding": {"x": {"field": "t", "type": "quantitative", "title": null}, "y": {"field": "gov", "type": "quantitative", "title": null}}}
     ]},
    {"spacing": 8.3,
     "hconcat": [
      {"width": 221.5, "height": 194, "view": {"fill": "#d9d9d9"},
       "resolve": {"axis": {"x": "independent"}},
       "layer": [
        {"data": {"name": "jR"}, "mark": {"type": "line", "color": "#f5a623", "strokeWidth": 2},
         "encoding": {
          "x": {"field": "t", "type": "quantitative", "title": null, "scale": {"domain": [1997.9, 2014.24], "nice": false, "zero": false},
                "axis": {"title": null, "orient": "bottom", "values": [2000,2001,2002,2003,2004,2005,2006,2007,2008,2009,2010,2011,2012,2013,2014], "labels": false, "offset": -8, "tickSize": 8, "tickColor": "#333333", "tickWidth": 1, "domain": false, "grid": true, "gridColor": "#ffffff", "gridWidth": 1.3, "gridOpacity": {"condition": {"test": "datum.value % 2 === 0", "value": 1}, "value": 0}, "zindex": 1}},
          "y": {"field": "v", "type": "quantitative", "title": null, "scale": {"domain": [-30, 45], "nice": false, "zero": false},
                "axis": {"title": null, "orient": "left", "values": [-30, -15, 0, 15, 30], "offset": -1.5, "ticks": false, "domain": false, "grid": true, "gridColor": {"condition": {"test": "datum.value === 0", "value": "#000000"}, "value": "#ffffff"}, "gridWidth": 1.3, "labelAlign": "left", "labelBaseline": "alphabetic", "labelPadding": 0, "labelOffset": -2.5, "labelExpr": "datum.value < 0 ? '–' + abs(datum.value) : datum.label", "labelFlush": false, "labelOverlap": false, "labelBound": false, "zindex": 1}}}},
        {"data": {"name": "jD"}, "mark": {"type": "line", "color": "#c0272d", "strokeWidth": 2},
         "encoding": {"x": {"field": "t", "type": "quantitative", "title": null,
                "axis": {"title": null, "orient": "bottom", "values": [2000, 2002, 2004, 2006, 2008, 2010, 2012], "format": "d", "labelExpr": "substring(datum.label, 2)", "labelOffset": 8, "ticks": false, "tickSize": 0, "labelPadding": 5, "labelFlush": false, "labelOverlap": false, "labelBound": false, "domain": false, "grid": false, "zindex": 1}},
          "y": {"field": "v", "type": "quantitative", "title": null}}},
        {"data": {"name": "jL"}, "mark": {"type": "line", "color": "#3b73b9", "strokeWidth": 2},
         "encoding": {"x": {"field": "t", "type": "quantitative", "title": null, "axis": null}, "y": {"field": "v", "type": "quantitative", "title": null}}}
       ]},
      {"width": 110, "height": 194, "view": {"fill": "#d9d9d9"},
       "data": {"name": "qJPY"},
       "resolve": {"axis": {"x": "independent"}},
       "layer": [
        {"mark": {"type": "line", "color": "#f5a623", "strokeWidth": 2},
         "encoding": {
          "x": {"field": "t", "type": "quantitative", "title": null, "scale": {"domain": [2014.24, 2016.94], "nice": false, "zero": false},
                "axis": {"title": null, "orient": "bottom", "values": [2014.25, 2014.5, 2014.75, 2015.25, 2015.5, 2015.75, 2016.25], "offset": -6, "tickSize": 6, "tickColor": "#555555", "tickWidth": 1, "labels": false, "domain": false, "grid": false, "zindex": 1}},
          "y": {"field": "res", "type": "quantitative", "title": null, "scale": {"domain": [-30, 45], "nice": false, "zero": false},
                "axis": {"title": null, "orient": "right", "values": [-30, -15, 0, 15, 30], "offset": -1.5, "ticks": false, "domain": false, "grid": true, "gridColor": {"condition": {"test": "datum.value === 0", "value": "#000000"}, "value": "#ffffff"}, "gridWidth": 1.3, "labelAlign": "right", "labelBaseline": "alphabetic", "labelPadding": 0, "labelOffset": -2.5, "labelExpr": "datum.value < 0 ? '–' + abs(datum.value) : datum.label", "labelFlush": false, "labelOverlap": false, "labelBound": false, "zindex": 1}}}},
        {"mark": {"type": "line", "color": "#c0272d", "strokeWidth": 2},
         "encoding": {
          "x": {"field": "t", "type": "quantitative", "title": null,
                "axis": {"title": null, "orient": "bottom", "values": [2015, 2016], "offset": -12, "tickSize": 12, "tickColor": "#555555", "tickWidth": 1, "labels": false, "domain": false, "grid": true, "gridColor": "#ffffff", "gridWidth": 1.3, "zindex": 1}},
          "y": {"field": "sec", "type": "quantitative", "title": null}}},
        {"mark": {"type": "line", "color": "#3b73b9", "strokeWidth": 2},
         "encoding": {
          "x": {"field": "t", "type": "quantitative", "title": null,
                "axis": {"title": null, "orient": "bottom", "values": [2014.62, 2015.5, 2016.45], "ticks": false, "tickSize": 0, "labelExpr": "'' + (floor(datum.value) - 2000)", "labelPadding": 5, "labelFlush": false, "labelOverlap": false, "labelBound": false, "domain": false, "grid": false, "zindex": 1}},
          "y": {"field": "loans", "type": "quantitative", "title": null}}}
       ]}
     ]}
   ]}
  ]}
 ]},
 {"spacing": 13.5, "hconcat": [
  {"width": 339, "height": 30, "data": {"name": "legL"},
   "encoding": {
    "x": {"field": "col", "type": "nominal", "scale": {"type": "point", "domain": ["c1", "c2"], "range": [23.5, 190], "padding": 0}, "axis": null},
    "y": {"field": "row", "type": "nominal", "scale": {"type": "point", "domain": ["r1", "r2", "r3"], "padding": 0}, "axis": null}},
   "layer": [
    {"transform": [{"filter": "datum.sym === 'res'"}], "mark": {"type": "point", "filled": true, "shape": "M-1,-0.4H1V0.4H-1Z", "size": 400, "color": "#e5c494", "opacity": 1, "strokeWidth": 0}},
    {"transform": [{"filter": "datum.sym === 'sec'"}], "mark": {"type": "point", "filled": true, "shape": "M-1,-0.4H1V0.4H-1Z", "size": 400, "color": "#c57d8c", "opacity": 1, "strokeWidth": 0}},
    {"transform": [{"filter": "datum.sym === 'loans'"}], "mark": {"type": "point", "filled": true, "shape": "M-1,-0.4H1V0.4H-1Z", "size": 400, "color": "#64ace4", "opacity": 1, "strokeWidth": 0}},
    {"transform": [{"filter": "datum.sym === 'gov'"}], "mark": {"type": "point", "filled": false, "shape": "M-1,0H-0.6M-0.2,0H1", "size": 361, "color": "#000000", "strokeWidth": 1.3, "opacity": 1}},
    {"transform": [{"filter": "datum.sym !== 'head'"}], "mark": {"type": "text", "align": "left", "baseline": "middle", "dx": 15.5}, "encoding": {"text": {"field": "label"}}},
    {"transform": [{"filter": "datum.sym === 'head'"}], "mark": {"type": "text", "align": "left", "baseline": "middle", "dx": -10}, "encoding": {"text": {"field": "label"}}}
   ]},
  {"width": 340, "height": 30, "data": {"name": "legR"},
   "encoding": {
    "x": {"field": "col", "type": "nominal", "scale": {"type": "point", "domain": ["c3", "c4"], "range": [21.5, 120.5], "padding": 0}, "axis": null},
    "y": {"field": "row", "type": "nominal", "scale": {"type": "point", "domain": ["r1", "r2", "r3"], "padding": 0}, "axis": null}},
   "layer": [
    {"transform": [{"filter": "datum.sym === 'res'"}], "mark": {"type": "point", "filled": false, "shape": "M-1,0H1", "size": 324, "color": "#f5a623", "strokeWidth": 2, "opacity": 1}},
    {"transform": [{"filter": "datum.sym === 'sec'"}], "mark": {"type": "point", "filled": false, "shape": "M-1,0H1", "size": 324, "color": "#c0272d", "strokeWidth": 2, "opacity": 1}},
    {"transform": [{"filter": "datum.sym === 'loans'"}], "mark": {"type": "point", "filled": false, "shape": "M-1,0H1", "size": 324, "color": "#3b73b9", "strokeWidth": 2, "opacity": 1}},
    {"transform": [{"filter": "datum.sym !== 'head'"}], "mark": {"type": "text", "align": "left", "baseline": "middle", "dx": 15}, "encoding": {"text": {"field": "label"}}},
    {"transform": [{"filter": "datum.sym === 'head'"}], "mark": {"type": "text", "align": "left", "baseline": "middle", "dx": -10}, "encoding": {"text": {"field": "label"}}}
   ]}
 ]}
],
"spacing": 1
}
